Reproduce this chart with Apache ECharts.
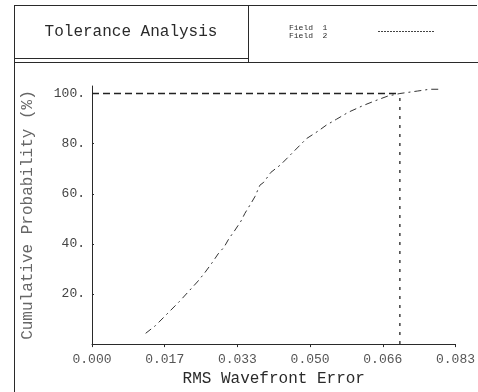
<!DOCTYPE html>
<html>
<head>
<meta charset="utf-8">
<script src="https://cdn.jsdelivr.net/npm/echarts@6/dist/echarts.min.js"></script>
<style>
html,body{margin:0;padding:0;background:#fff;}
#c{width:478px;height:392px;}
</style>
</head>
<body>
<div id="c"></div>
<script>
// ---- data ----
var field1X = [0.01225, 0.01451, 0.01996, 0.02200, 0.02404, 0.02563, 0.02744, 0.02880, 0.03016, 0.03130, 0.03243, 0.03402, 0.03492, 0.03628, 0.03719, 0.03833, 0.03923, 0.04082, 0.04309, 0.04898, 0.05171, 0.05352, 0.05579, 0.05851, 0.06191, 0.06463, 0.06758, 0.07030, 0.07438, 0.07710, 0.07937];
var field1Y = [4.3, 7.4, 17.0, 20.9, 24.8, 28.2, 32.5, 36.0, 38.7, 42.2, 44.9, 49.1, 52.2, 56.1, 58.8, 63.4, 64.6, 68.5, 71.6, 82.0, 85.1, 87.4, 89.7, 92.5, 95.2, 97.1, 99.0, 100.0, 101.0, 101.7, 101.7];
var thresholdX = [0, 0.0703];
var thresholdY = [100, 100];
var markerX = [0.0703, 0.0703];
var markerY = [0, 100];
var xTickValues = [0, 0.0166, 0.0332, 0.0498, 0.0664, 0.083];
var xTickLabels = ['0.000', '0.017', '0.033', '0.050', '0.066', '0.083'];
var yTickValues = [20, 40, 60, 80, 100];
var yTickLabels = ['20.', '40.', '60.', '80.', '100.'];
var legendNames = ['Field  1', 'Field  2'];
var titleText = 'Tolerance Analysis';
var xAxisTitle = 'RMS Wavefront Error';
var yAxisTitle = 'Cumulative Probability (%)';

function zip(a, b) { return a.map(function (v, i) { return [v, b[i]]; }); }

var font = '"Liberation Mono", "DejaVu Sans Mono", monospace';
var ink = '#2a2a2a';

var chart = echarts.init(document.getElementById('c'), null, {renderer: 'canvas'});
chart.setOption({
  animation: false,
  backgroundColor: '#fff',
  grid: {left: 92, right: 20, top: 86, bottom: 40, containLabel: false},
  xAxis: {
    type: 'value', min: 0, max: 0.083, interval: 0.0166,
    name: xAxisTitle, nameLocation: 'middle', nameGap: 23,
    nameTextStyle: {fontFamily: font, fontSize: 16, color: ink},
    axisLine: {lineStyle: {color: ink, width: 1}},
    axisTick: {show: true, length: 3, lineStyle: {color: ink}, customValues: xTickValues},
    axisLabel: {
      fontFamily: font, fontSize: 13, color: '#555', margin: 9,
      customValues: xTickValues,
      formatter: function (v) {
        for (var i = 0; i < xTickValues.length; i++) if (Math.abs(xTickValues[i] - v) < 1e-6) return xTickLabels[i];
        return '';
      }
    },
    splitLine: {show: false}
  },
  yAxis: {
    type: 'value', min: 0, max: 103,
    name: yAxisTitle, nameLocation: 'middle', nameGap: 56, nameRotate: 90,
    nameTextStyle: {fontFamily: font, fontSize: 16, color: '#666'},
    axisLine: {show: true, lineStyle: {color: ink, width: 1}},
    axisTick: {show: true, length: 2, inside: true, lineStyle: {color: ink}, customValues: yTickValues},
    axisLabel: {
      fontFamily: font, fontSize: 13, color: '#444', margin: 7,
      customValues: yTickValues,
      formatter: function (v) {
        for (var i = 0; i < yTickValues.length; i++) if (Math.abs(yTickValues[i] - v) < 1e-6) return yTickLabels[i];
        return '';
      }
    },
    splitLine: {show: false}
  },
  series: [
    {
      name: 'Field 1', type: 'line', data: zip(field1X, field1Y),
      showSymbol: false, smooth: false,
      lineStyle: {color: '#333', width: 1, type: [7, 4, 2, 4]}
    },
    {
      name: 'threshold', type: 'line', data: zip(thresholdX, thresholdY),
      showSymbol: false,
      lineStyle: {color: '#222', width: 1.3, type: [7, 4]}
    },
    {
      name: 'marker', type: 'line', data: zip(markerX, markerY),
      showSymbol: false,
      lineStyle: {color: '#222', width: 1.3, type: [3, 6]}
    }
  ],
  graphic: [
    // frame
    {type: 'line', shape: {x1: 14, y1: 5.5, x2: 477, y2: 5.5}, style: {stroke: ink, lineWidth: 1}},
    {type: 'line', shape: {x1: 14.5, y1: 5, x2: 14.5, y2: 392}, style: {stroke: ink, lineWidth: 1}},
    {type: 'line', shape: {x1: 248.5, y1: 5, x2: 248.5, y2: 62}, style: {stroke: ink, lineWidth: 1}},
    {type: 'line', shape: {x1: 14, y1: 58.5, x2: 248, y2: 58.5}, style: {stroke: ink, lineWidth: 1}},
    {type: 'line', shape: {x1: 14, y1: 62.5, x2: 478, y2: 62.5}, style: {stroke: ink, lineWidth: 1}},
    // title
    {type: 'text', x: 131, y: 32, style: {text: titleText, font: '16px ' + font, fill: ink, align: 'center', verticalAlign: 'middle'}},
    // legend
    {type: 'text', x: 289, y: 28, style: {text: legendNames[0], font: '8px ' + font, fill: ink, align: 'left', verticalAlign: 'middle'}},
    {type: 'text', x: 289, y: 36, style: {text: legendNames[1], font: '8px ' + font, fill: ink, align: 'left', verticalAlign: 'middle'}},
    {type: 'line', shape: {x1: 378, y1: 31.5, x2: 434, y2: 31.5}, style: {stroke: '#444', lineWidth: 1, lineDash: [2, 1]}}
  ]
});
</script>
</body>
</html>
